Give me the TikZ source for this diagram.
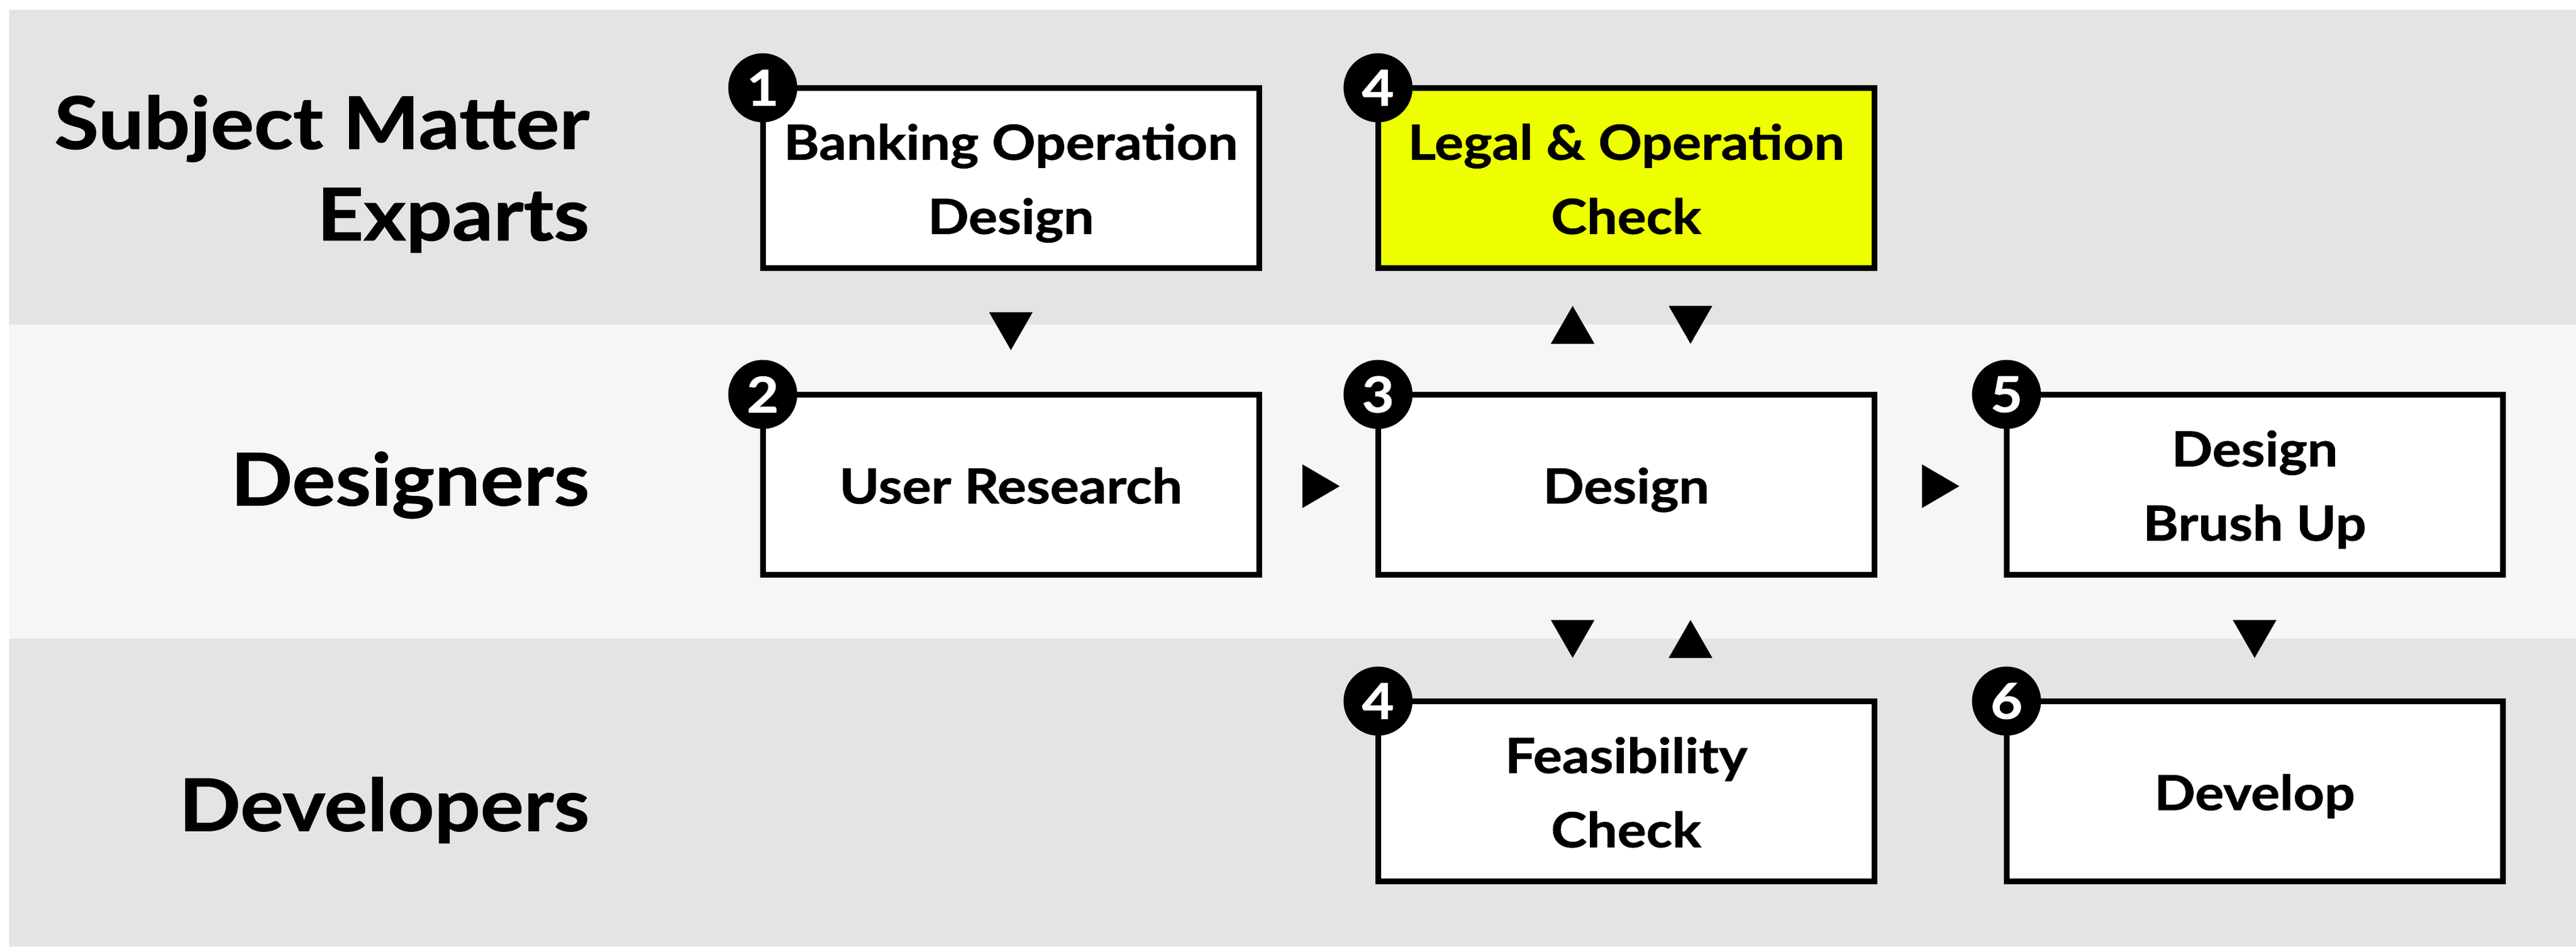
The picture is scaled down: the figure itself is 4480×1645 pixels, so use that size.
\documentclass[tikz,border=0pt]{standalone}
\usepackage{fontspec}
\setmainfont{Lato}[BoldFeatures={FakeStretch=1.12,FakeBold=1}]
\usetikzlibrary{calc}
\definecolor{bandDark}{HTML}{E4E4E4}
\definecolor{bandLight}{HTML}{F6F6F6}
\definecolor{legalYellow}{HTML}{EEFF00}
\newcommand\capTop{\rule{0pt}{8.6pt}}
\newcommand\capBot{\rule[-2pt]{0pt}{2pt}}
\begin{document}
\begin{tikzpicture}[x=0.1pt,y=-0.1pt,
  stepbox/.style={draw=black, line width=1pt, fill=white, minimum width=86.3pt,
    minimum height=31.3pt, inner sep=0pt, outer sep=0pt, align=center,
    font=\fontsize{8.4}{12.9}\selectfont\bfseries},
  numdot/.style={circle, fill=black, minimum size=12pt, inner sep=0pt,
    text=white, font=\fontsize{8.6}{8.6}\selectfont\bfseries},
  lanelabel/.style={anchor=east, align=right, inner sep=0pt,
    font=\fontsize{12.6}{15.9}\selectfont\bfseries},
  headfill/.style={fill=black}
]
% background and lanes
\useasboundingbox (0,0) rectangle (4480,1645);
\fill[white] (0,0) rectangle (4480,1645);
\fill[bandDark] (16,17) rectangle (4480,564);
\fill[bandLight] (16,564) rectangle (4480,1110);
\fill[bandDark] (16,1110) rectangle (4480,1645);

% lane labels
\node[lanelabel] (lsme) at (1027,302) {Subject Matter\\Exparts};
\node[lanelabel] (ldes) at (1027,843) {Designers};
\node[lanelabel] (ldev) at (1027,1408) {Developers};

% step boxes
\node[stepbox] (b1) at (1758,309) {\capTop Banking Operation\\Design\capBot};
\node[stepbox, fill=legalYellow] (b4a) at (2828,309) {\capTop Legal \& Operation\\Check\capBot};
\node[stepbox] (b2) at (1758,842) {\capTop User Research\capBot};
\node[stepbox] (b3) at (2828,842) {\capTop Design\capBot};
\node[stepbox] (b5) at (3921,842) {\capTop Design\\Brush Up\capBot};
\node[stepbox] (b4b) at (2828,1375) {\capTop Feasibility\\Check\capBot};
\node[stepbox] (b6) at (3921,1375) {\capTop Develop\capBot};

% number badges
\node[numdot] (n1) at (b1.north west) {1};
\node[numdot] (n4a) at (b4a.north west) {4};
\node[numdot] (n2) at (b2.north west) {2};
\node[numdot] (n3) at (b3.north west) {3};
\node[numdot] (n5) at (b5.north west) {5};
\node[numdot] (n4b) at (b4b.north west) {4};
\node[numdot] (n6) at (b6.north west) {6};

% arrowheads
\coordinate (a12) at ($(b1.south)!0.5!(b2.north)+(0,0)$);
\coordinate (a23) at ($(b2.east)!0.5!(b3.west)+(4,3)$);
\coordinate (a35) at ($(b3.east)!0.5!(b5.west)+(0,3)$);
\coordinate (a34up) at ($(b4a.south)!0.5!(b3.north)+(-93,-11)$);
\coordinate (a34dn) at ($(b4a.south)!0.5!(b3.north)+(112,-11)$);
\coordinate (a3fdn) at ($(b3.south)!0.5!(b4b.north)+(-93,2)$);
\coordinate (a3fup) at ($(b3.south)!0.5!(b4b.north)+(112,2)$);
\coordinate (a56) at ($(b5.south)!0.5!(b6.north)+(0,2)$);

\fill[headfill] (a12) ++(-38,-33) -- ++(76,0) -- ++(-38,66) -- cycle;
\fill[headfill] (a34dn) ++(-38,-33) -- ++(76,0) -- ++(-38,66) -- cycle;
\fill[headfill] (a3fdn) ++(-38,-33) -- ++(76,0) -- ++(-38,66) -- cycle;
\fill[headfill] (a56) ++(-38,-33) -- ++(76,0) -- ++(-38,66) -- cycle;
\fill[headfill] (a34up) ++(-38,33) -- ++(76,0) -- ++(-38,-66) -- cycle;
\fill[headfill] (a3fup) ++(-38,33) -- ++(76,0) -- ++(-38,-66) -- cycle;
\fill[headfill] (a23) ++(-32,-38) -- ++(0,76) -- ++(65,-38) -- cycle;
\fill[headfill] (a35) ++(-32,-38) -- ++(0,76) -- ++(65,-38) -- cycle;
\end{tikzpicture}
\end{document}
